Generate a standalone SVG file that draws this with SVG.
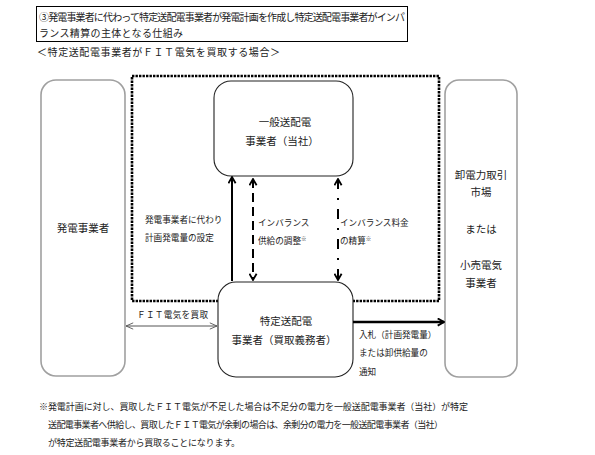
<svg xmlns="http://www.w3.org/2000/svg" width="595" height="455" viewBox="0 0 595 455">
<style>
text{font-family:"Noto Sans CJK JP","Noto Sans",sans-serif;fill:#222;}
.t{font-size:10px}
.n{font-size:10.5px;text-anchor:middle}
.s{font-size:8.6px}
.f{font-size:9px}
.gnode{fill:#fff;stroke:#a0a0a0;stroke-width:1.6}
.bnode{fill:#fff;stroke:#222;stroke-width:1.1}
</style>
<defs>
<marker id="ah" viewBox="0 0 10 10" refX="8.5" refY="5" markerWidth="9" markerHeight="9" markerUnits="userSpaceOnUse" orient="auto-start-reverse">
<path d="M1.5,1 L8.5,5 L1.5,9" fill="none" stroke="#000" stroke-width="2"/>
</marker>
<marker id="ahg" viewBox="0 0 10 10" refX="9" refY="5" markerWidth="9" markerHeight="9" markerUnits="userSpaceOnUse" orient="auto-start-reverse">
<path d="M1,1.5 L9,5 L1,8.5" fill="none" stroke="#555" stroke-width="1"/>
</marker>
</defs>
<rect width="595" height="455" fill="#fff"/>

<g id="title">
<rect x="36.5" y="6.5" width="371" height="35" fill="none" stroke="#000" stroke-width="1"/>
<text class="t" x="39" y="21" textLength="366">③発電事業者に代わって特定送配電事業者が発電計画を作成し特定送配電事業者がインパ</text>
<text class="t" x="39" y="37" textLength="144">ランス精算の主体となる仕組み</text>
<text class="t" x="37" y="56" textLength="243">＜特定送配電事業者がＦＩＴ電気を買取する場合＞</text>
</g>

<rect id="boundary" x="132" y="76" width="307" height="225" fill="none" stroke="#000" stroke-width="2.6" stroke-dasharray="2.4 1.1"/>

<g id="hatsuden">
<rect class="gnode" x="41" y="80" width="84" height="296" rx="15"/>
<text class="n" x="83" y="232">発電事業者</text>
</g>

<g id="ippan">
<rect class="bnode" x="214" y="81" width="139" height="95" rx="17"/>
<text class="n" x="285" y="126">一般送配電</text>
<text class="n" x="282" y="145">事業者（当社）</text>
</g>

<g id="tokutei">
<rect class="bnode" x="218" y="282" width="135" height="95" rx="18"/>
<text class="n" x="286" y="325">特定送配電</text>
<text class="n" x="284" y="344">事業者（買取義務者）</text>
</g>

<g id="market">
<rect class="gnode" x="445" y="80" width="72" height="297" rx="14"/>
<text class="n" x="481" y="179">卸電力取引</text>
<text class="n" x="481" y="196">市場</text>
<text class="n" x="481" y="233">または</text>
<text class="n" x="481" y="269">小売電気</text>
<text class="n" x="481" y="287">事業者</text>
</g>

<g id="connectors">
<line x1="232" y1="281" x2="232" y2="177" stroke="#000" stroke-width="2" marker-end="url(#ah)"/>
<line x1="253" y1="179" x2="253" y2="280" stroke="#000" stroke-width="2" stroke-dasharray="9 5" marker-start="url(#ah)" marker-end="url(#ah)"/>
<line x1="338" y1="179" x2="338" y2="280" stroke="#000" stroke-width="2" stroke-dasharray="10 9 2 9" marker-start="url(#ah)" marker-end="url(#ah)"/>
<line x1="126" y1="326" x2="217" y2="326" stroke="#555" stroke-width="1" marker-start="url(#ahg)" marker-end="url(#ahg)"/>
<line x1="353" y1="322" x2="444" y2="322" stroke="#000" stroke-width="2.4" marker-end="url(#ah)"/>
</g>

<g id="labels">
<text class="s" x="145" y="223">発電事業者に代わり</text>
<text class="s" x="145" y="241">計画発電量の設定</text>
<text class="s" x="258" y="226" font-size="9.5">インバランス</text>
<text class="s" x="258" y="244">供給の調整<tspan font-size="5.5" dy="-3">※</tspan></text>
<text class="s" x="340" y="226">インバランス料金</text>
<text class="s" x="340" y="244">の精算<tspan font-size="5.5" dy="-3">※</tspan></text>
<text class="s" x="137" y="318" textLength="71">ＦＩＴ電気を買取</text>
<text class="s" x="359" y="338">入札（計画発電量）</text>
<text class="s" x="359" y="356">または卸供給量の</text>
<text class="s" x="359" y="375">通知</text>
</g>

<g id="footnote">
<text class="f" x="39" y="410" textLength="429">※発電計画に対し、買取したＦＩＴ電気が不足した場合は不足分の電力を一般送配電事業者（当社）が特定</text>
<text class="f" x="48" y="428" textLength="395">送配電事業者へ供給し、買取したＦＩＴ電気が余剰の場合は、余剰分の電力を一般送配電事業者（当社）</text>
<text class="f" x="48" y="446" textLength="192">が特定送配電事業者から買取ることになります。</text>
</g>
</svg>
